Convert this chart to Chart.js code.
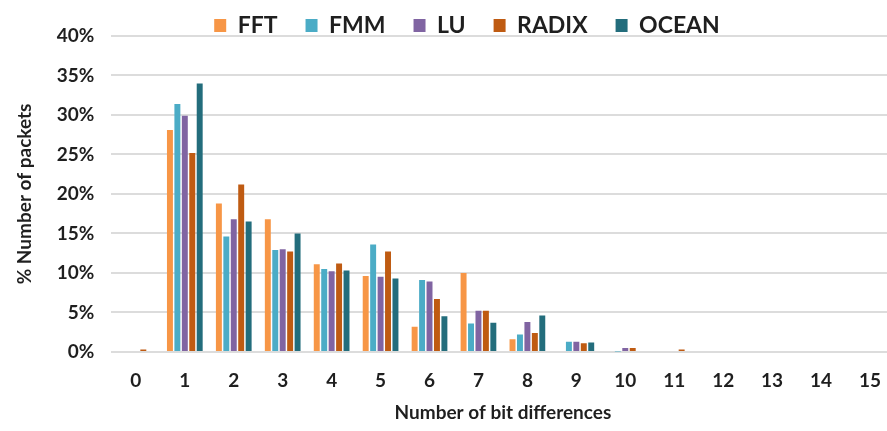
<!DOCTYPE html>
<html>
<head>
<meta charset="utf-8">
<script src="https://cdn.jsdelivr.net/npm/chart.js@4.4.1/dist/chart.umd.min.js"></script>
<style>
  html, body { margin: 0; padding: 0; background: #fff; overflow: hidden; }
  #wrap { width: 887px; height: 431px; overflow: hidden; }
</style>
</head>
<body>
<div id="wrap"><canvas id="bitChart" width="895" height="431"></canvas></div>
<script>
// Number of bit differences per packet (x) vs share of packets (y, %)
const bitDiffs = ['0', '1', '2', '3', '4', '5', '6', '7', '8', '9', '10', '11', '12', '13', '14', '15'];
const fftVals   = [0,   28.1, 18.8, 16.8, 11.1, 9.6,  3.2, 10.0, 1.6, 0,   0.1,  0,   0, 0, 0, 0];
const fmmVals   = [0,   31.4, 14.6, 12.9, 10.5, 13.6, 9.1, 3.6,  2.2, 1.3, 0.05, 0,   0, 0, 0, 0];
const luVals    = [0,   29.9, 16.8, 13.0, 10.2, 9.5,  8.9, 5.2,  3.8, 1.3, 0.5,  0,   0, 0, 0, 0];
const radixVals = [0.3, 25.2, 21.2, 12.7, 11.2, 12.7, 6.7, 5.2,  2.4, 1.1, 0.5,  0.3, 0, 0, 0, 0];
const oceanVals = [0,   34.0, 16.5, 15.0, 10.3, 9.3,  4.5, 3.7,  4.6, 1.2, 0,    0,   0, 0, 0, 0];
const yTicks = [0, 5, 10, 15, 20, 25, 30, 35, 40];

const seriesNames = ['FFT', 'FMM', 'LU', 'RADIX', 'OCEAN'];
const seriesColors = ['#f79646', '#4bacc6', '#8064a2', '#bf5b12', '#236d7c'];
const seriesData = [fftVals, fmmVals, luVals, radixVals, oceanVals];

const fontFam = "Lato, 'Open Sans', 'DejaVu Sans', sans-serif";
const textCol = '#1f1f1f';

// legend: wide gaps between items but a short box, drawn a bit higher and right
const LEGEND_PAD = 28;
const LEGEND_H = 36;
const LEGEND_SHIFT_Y = 14;
const LEGEND_SHIFT_X = 30;
const legendTweak = {
    id: 'legendTweak',
    beforeInit(chart) {
        const lg = chart.legend;
        const fit = lg.fit;
        lg.fit = function () { fit.call(this); this.height = LEGEND_H; };
        const draw = lg.draw;
        lg.draw = function () {
            const t = this.top, l = this.left;
            this.top = t - LEGEND_SHIFT_Y;
            this.left = l + LEGEND_SHIFT_X;
            draw.call(this);
            this.top = t;
            this.left = l;
        };
    }
};

const ctx = document.getElementById('bitChart').getContext('2d');
new Chart(ctx, {
    type: 'bar',
    plugins: [legendTweak],
    data: {
        labels: bitDiffs,
        datasets: seriesNames.map((name, i) => ({
            label: name,
            data: seriesData[i],
            backgroundColor: seriesColors[i],
            borderWidth: 0,
            barPercentage: 0.8,
            categoryPercentage: 0.76
        }))
    },
    options: {
        responsive: false,
        animation: false,
        layout: { padding: { left: 9, right: 0, top: 0, bottom: 5 } },
        plugins: {
            legend: {
                display: true,
                position: 'top',
                labels: {
                    boxWidth: 12,
                    boxHeight: 13,
                    padding: LEGEND_PAD,
                    color: textCol,
                    font: { family: fontFam, size: 23, weight: 'bold' }
                }
            },
            tooltip: { enabled: false }
        },
        scales: {
            x: {
                grid: { display: false },
                border: { display: false },
                ticks: { color: textCol, font: { family: fontFam, size: 19, weight: 'bold', lineHeight: 0.7 }, padding: 14 },
                title: {
                    display: true,
                    text: 'Number of bit differences',
                    color: textCol,
                    font: { family: fontFam, size: 19, weight: 'bold' },
                    padding: { top: 0, bottom: 2 }
                }
            },
            y: {
                min: 0,
                max: 40,
                afterBuildTicks: axis => { axis.ticks = yTicks.map(v => ({ value: v })); },
                grid: { color: '#dcdcdc', lineWidth: 2, drawTicks: false },
                border: { display: false },
                ticks: {
                    color: textCol,
                    padding: 17,
                    font: { family: fontFam, size: 19, weight: 'bold' },
                    callback: v => v + '%'
                },
                title: {
                    display: true,
                    text: '% Number of packets',
                    color: textCol,
                    font: { family: fontFam, size: 19, weight: 'bold' },
                    padding: { bottom: 4 }
                }
            }
        }
    }
});
</script>
</body>
</html>
